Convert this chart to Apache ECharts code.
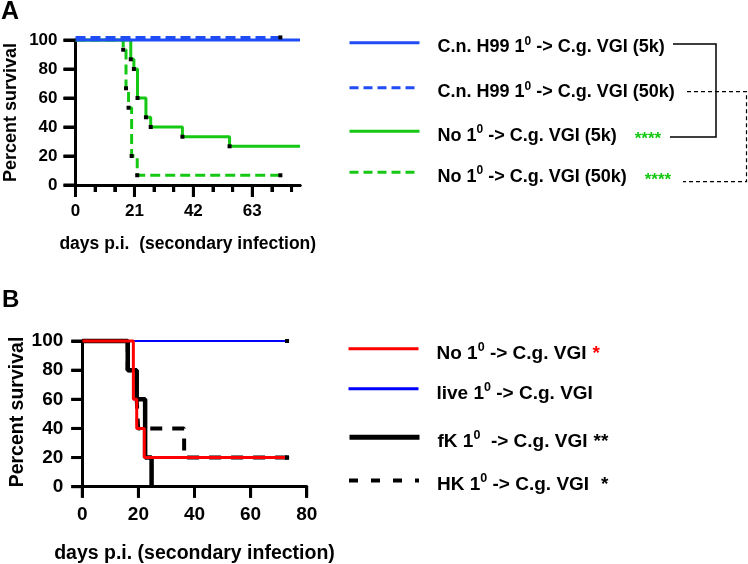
<!DOCTYPE html>
<html>
<head>
<meta charset="utf-8">
<script src="https://cdn.jsdelivr.net/npm/echarts@6/dist/echarts.min.js"></script>
<style>
  html, body { margin: 0; padding: 0; background: #fff; }
  #wrap { position: relative; width: 748px; height: 564px; background: #fff; }
  #chart, #keys { position: absolute; left: 0; top: 0; width: 748px; height: 564px; }
</style>
</head>
<body>
<div id="wrap">
  <div id="chart"></div>
  <div id="keys"></div>
</div>
<script>
var FONT = "'Liberation Sans', Arial, sans-serif";

// ---- panel A : days p.i. / percent survival ----
var aH99_5k_days = [0, 80];
var aH99_5k_pct = [100, 100];
var aH99_50k_days = [0, 73];
var aH99_50k_pct = [101.8, 101.8]; // prism nudges the overlapping curve up a bit
var aNo_5k_days = [0, 19.7, 20.8, 22.1, 25.1, 26.8, 38.1, 54.9, 80];
var aNo_5k_pct = [100, 86.7, 80, 60, 46.7, 40, 33.3, 26.7, 26.7];
var aNo_50k_days = [0, 17, 18, 18.9, 20, 22, 73];
var aNo_50k_pct = [100, 93.3, 66.7, 53.3, 20, 6.7, 6.7];
var xMajorA = [0, 21, 42, 63];
var xMinorA = [7, 14, 28, 35, 49, 56, 70, 77];

// ---- panel B ----
var bNo_days = [0, 18.2, 19.4, 22.1, 73];
var bNo_pct = [100, 60, 40, 20, 20];
var bLive_days = [0, 73];
var bLive_pct = [100, 100];
var bFK_days = [0, 16.2, 19.4, 22.4, 24.7];
var bFK_pct = [100, 80, 60, 20, 0];
var bHK_days = [0, 16.2, 19.4, 19.9, 36.3, 73];
var bHK_pct = [100, 80, 60, 40, 20, 20];
var xTicksB = [0, 20, 40, 60, 80];
var yTicks = [0, 20, 40, 60, 80, 100];

// legend labels: [text before superscript, text after, stars]
var labelsA = [
    ['C.n. H99 1', ' -> C.g. VGI (5k)', ''],
    ['C.n. H99 1', ' -> C.g. VGI (50k)', ''],
    ['No 1', ' -> C.g. VGI (5k)', '****'],
    ['No 1', ' -> C.g. VGI (50k)', '****']
];
var labelsB = [
    ['No 1', ' -> C.g. VGI', '*'],
    ['live 1', ' -> C.g. VGI', ''],
    ['fK 1', '  -> C.g. VGI', '**'],
    ['HK 1', ' -> C.g. VGI', '*']
];

function nameOf(l) { return l[0] + '\u2070' + l[1]; }

var richText = {};
labelsA.forEach(function (l, i) {
    richText[nameOf(l)] = '{b|' + l[0] + '}{s|0}{b|' + l[1] + '}' + (l[2] ? '{g' + i + '|' + l[2] + '}' : '');
});
labelsB.forEach(function (l, i) {
    richText[nameOf(l)] = '{b|' + l[0] + '}{s|0}{b|' + l[1] + '}' + (l[2] ? '{k' + i + '|' + l[2] + '}' : '');
});

// kaplan-meier step curve, black squares where the prism graph shows them
function km(name, days, pct, panel, color, width, dash, dropMarks, endMark) {
    var n = days.length;
    return {
        name: name,
        type: 'line',
        step: 'end',
        xAxisIndex: panel === 0 ? 0 : 2,
        yAxisIndex: panel,
        data: days.map(function (d, i) { return [d, pct[i]]; }),
        lineStyle: { color: color, width: width, type: dash },
        itemStyle: { color: '#000' },
        symbol: 'rect',
        symbolSize: function (v, p) {
            if (p.dataIndex === 0) return 0;
            if (p.dataIndex === n - 1) return endMark ? 4 : 0;
            return dropMarks ? 4 : 0;
        },
        clip: false,
        silent: true,
        animation: false
    };
}

var GREEN = '#14c814', BLUEA = '#1f4cf5';

var series = [
    km(nameOf(labelsA[2]), aNo_5k_days, aNo_5k_pct, 0, GREEN, 3, 'solid', true, false),
    km(nameOf(labelsA[3]), aNo_50k_days, aNo_50k_pct, 0, GREEN, 3, [10, 5], true, true),
    km(nameOf(labelsA[0]), aH99_5k_days, aH99_5k_pct, 0, BLUEA, 3, 'solid', false, false),
    km(nameOf(labelsA[1]), aH99_50k_days, aH99_50k_pct, 0, BLUEA, 3, [10, 5], false, true),
    km(nameOf(labelsB[1]), bLive_days, bLive_pct, 1, '#0000ff', 2, 'solid', false, true),
    km(nameOf(labelsB[3]), bHK_days, bHK_pct, 1, '#000', 4, [12, 10], false, true),
    km(nameOf(labelsB[2]), bFK_days, bFK_pct, 1, '#000', 4.5, 'solid', false, false),
    km(nameOf(labelsB[0]), bNo_days, bNo_pct, 1, '#ff0000', 3, 'solid', false, true)
];

var axisLine = { show: true, lineStyle: { color: '#000', width: 3 } };
function tickStyle(len) { return { show: true, length: len, lineStyle: { color: '#000', width: 3 } }; }
function labelStyle(fs, m) { return { show: true, color: '#000', fontSize: fs, fontWeight: 'bold', fontFamily: FONT, margin: m }; }

// plot: axes + curves
var chart = echarts.init(document.getElementById('chart'));
chart.setOption({
    animation: false,
    grid: [
        { left: 75.5, top: 40, width: 224.5, height: 145 },
        { left: 82.3, top: 341, width: 224.4, height: 145.7 }
    ],
    xAxis: [
        {
            gridIndex: 0, type: 'value', min: 0, max: 80, position: 'bottom',
            axisLine: axisLine,
            axisTick: Object.assign(tickStyle(12), { customValues: xMajorA }),
            axisLabel: Object.assign(labelStyle(17, 18), { customValues: xMajorA }),
            splitLine: { show: false }
        },
        {
            gridIndex: 0, type: 'value', min: 0, max: 80, position: 'bottom',
            axisLine: axisLine,
            axisTick: Object.assign(tickStyle(7), { customValues: xMinorA }),
            axisLabel: { show: false },
            splitLine: { show: false }
        },
        {
            gridIndex: 1, type: 'value', min: 0, max: 80, interval: 20, position: 'bottom',
            axisLine: axisLine,
            axisTick: tickStyle(11),
            axisLabel: labelStyle(19, 19),
            splitLine: { show: false }
        }
    ],
    yAxis: [
        {
            gridIndex: 0, type: 'value', min: 0, max: 100, interval: 20,
            axisLine: axisLine,
            axisTick: Object.assign(tickStyle(12), { customValues: yTicks }),
            axisLabel: Object.assign(labelStyle(17, 18), { customValues: yTicks }),
            splitLine: { show: false }
        },
        {
            gridIndex: 1, type: 'value', min: 0, max: 100, interval: 20,
            axisLine: axisLine,
            axisTick: tickStyle(11),
            axisLabel: labelStyle(19, 19),
            splitLine: { show: false }
        }
    ],
    series: series
});

// tick marks placed through the axes' own scales (v6 skipped the axisTick ones here)
function tickMarks(finder, values, horiz, len) {
    return values.map(function (v) {
        var p = chart.convertToPixel(finder, horiz ? [v, 0] : [0, v]);
        var end = horiz ? [p[0], p[1] + len] : [p[0] - len, p[1]];
        return {
            type: 'line', silent: true, z: 10,
            shape: { x1: p[0], y1: p[1], x2: end[0], y2: end[1] },
            style: { stroke: '#000', lineWidth: 3 }
        };
    });
}
var gA = { xAxisIndex: 0, yAxisIndex: 0 }, gB = { xAxisIndex: 2, yAxisIndex: 1 };
chart.setOption({
    graphic: [].concat(
        tickMarks(gA, xMajorA, true, 12),
        tickMarks(gA, xMinorA, true, 7),
        tickMarks(gA, yTicks, false, 12),
        tickMarks(gB, xTicksB, true, 11),
        tickMarks(gB, yTicks, false, 11)
    )
});

// keys: panel letters, axis titles, legends and the comparison brackets, on a see-through layer
function legendItem(label, left, top, rich, lw, dash) {
    return {
        data: [nameOf(label)],
        left: left, top: top,
        orient: 'vertical',
        padding: 0,
        itemWidth: 70, itemHeight: 14,
        itemStyle: { opacity: 0 },
        lineStyle: { width: lw, type: dash },
        selectedMode: false,
        formatter: function (name) { return richText[name]; },
        textStyle: { padding: [9, 0, 0, 13], rich: rich }
    };
}

function axisTitle(text, x, y, fs, vertical) {
    return {
        type: 'text', x: x, y: y, rotation: vertical ? Math.PI / 2 : 0, silent: true,
        style: { text: text, fontSize: fs, fontWeight: 'bold', fontFamily: FONT, fill: '#000', align: 'center', verticalAlign: 'middle' }
    };
}

var richA = {
    b: { fontSize: 18, fontWeight: 'bold', fontFamily: FONT, color: '#000', lineHeight: 24 },
    s: { fontSize: 12, fontWeight: 'bold', fontFamily: FONT, color: '#000', lineHeight: 15, verticalAlign: 'top' },
    g2: { fontSize: 17, fontWeight: 'bold', fontFamily: FONT, color: GREEN, lineHeight: 16, verticalAlign: 'bottom', padding: [0, 0, 0, 18] },
    g3: { fontSize: 17, fontWeight: 'bold', fontFamily: FONT, color: GREEN, lineHeight: 16, verticalAlign: 'bottom', padding: [0, 0, 0, 18] }
};
var richB = {
    b: { fontSize: 19, fontWeight: 'bold', fontFamily: FONT, color: '#000', lineHeight: 25 },
    s: { fontSize: 12.5, fontWeight: 'bold', fontFamily: FONT, color: '#000', lineHeight: 15, verticalAlign: 'top' },
    k0: { fontSize: 19, fontWeight: 'bold', fontFamily: FONT, color: '#ff0000', lineHeight: 25, padding: [0, 0, 0, 6] },
    k2: { fontSize: 19, fontWeight: 'bold', fontFamily: FONT, color: '#000', lineHeight: 25, padding: [0, 0, 0, 6] },
    k3: { fontSize: 19, fontWeight: 'bold', fontFamily: FONT, color: '#000', lineHeight: 25, padding: [0, 0, 0, 12] }
};

var keys = echarts.init(document.getElementById('keys'));
keys.setOption({
    backgroundColor: 'transparent',
    animation: false,
    title: [
        { text: 'A', left: 1, top: 0, padding: 0, textStyle: { fontSize: 25, fontWeight: 'bold', fontFamily: FONT, color: '#000' } },
        { text: 'B', left: 2, top: 288, padding: 0, textStyle: { fontSize: 24, fontWeight: 'bold', fontFamily: FONT, color: '#000' } }
    ],
    grid: { left: 0, top: 0, width: 10, height: 10, show: false },
    xAxis: { type: 'value', show: false },
    yAxis: { type: 'value', show: false },
    legend: [
        legendItem(labelsA[0], 348, 43.3 - 8, richA, 3, 'solid'),
        legendItem(labelsA[1], 348, 88.3 - 8, richA, 3, [9, 5]),
        legendItem(labelsA[2], 348, 131.7 - 8, richA, 3, 'solid'),
        legendItem(labelsA[3], 348, 172.7 - 8, richA, 3, [9, 5]),
        legendItem(labelsB[0], 347, 348.3 - 7.5, richB, 3, 'solid'),
        legendItem(labelsB[1], 347, 388.3 - 7.5, richB, 3, 'solid'),
        legendItem(labelsB[2], 347, 436.7 - 7.5, richB, 5, 'solid'),
        legendItem(labelsB[3], 347, 480 - 7.5, richB, 4, [9, 13])
    ],
    // same series as the plot, without data, so the legend can take their styles
    series: series.map(function (s) {
        return { name: s.name, type: 'line', data: [], lineStyle: s.lineStyle, itemStyle: s.itemStyle, symbol: 'rect', silent: true };
    }),
    graphic: [
        axisTitle('days p.i.  (secondary infection)', 187.75, 244, 17.5, false),
        axisTitle('Percent survival', 10.7, 112.5, 18, true),
        axisTitle('days p.i. (secondary infection)', 194.5, 553.5, 19.5, false),
        axisTitle('Percent survival', 18, 412, 19.5, true),
        { type: 'polyline', silent: true, shape: { points: [[673, 44], [716, 44], [716, 137], [670, 137]] },
          style: { stroke: '#000', lineWidth: 1.5, fill: null } },
        { type: 'polyline', silent: true, shape: { points: [[687, 91.7], [746.5, 91.7], [746.5, 181.7], [683, 181.7]] },
          style: { stroke: '#000', lineWidth: 1.2, lineDash: [4, 3], fill: null } }
    ]
});
</script>
</body>
</html>
